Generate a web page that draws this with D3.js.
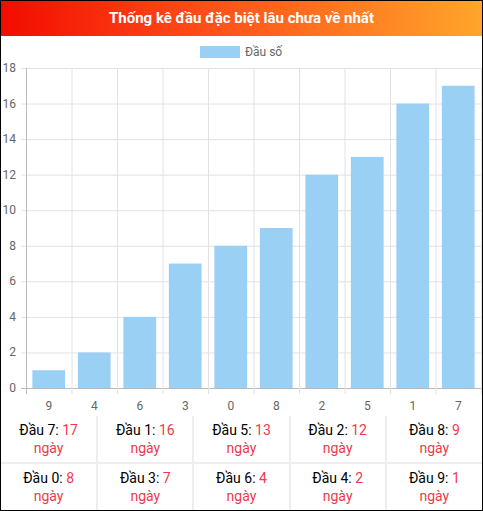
<!DOCTYPE html>
<meta charset="utf-8">
<style>
body { margin: 0; font-family: Roboto, sans-serif; }
#wrap { width: 481px; height: 509px; border: 1px solid #000; position: relative; background: #fff; }
.title { height: 35px; line-height: 35px; text-align: center; color: #fff; font-weight: bold; font-size: 15px;
  background: linear-gradient(to right, #f20c00, #ff4a18 40%, #ffa52a); }
table { position: absolute; top: 415px; left: 0; width: 481px; border-collapse: collapse; }
td { width: 20%; height: 46px; border: 2px solid #eee; text-align: center; font-size: 14px; line-height: 18px; padding: 0; }
td .v { color: #f0394c; }
tr:first-child td { border-top: none; }
td:first-child { border-left: none; }
td:last-child { border-right: none; }
tr:last-child td { border-bottom: none; }
</style>
<div id="wrap">
  <div class="title">Thống kê đầu đặc biệt lâu chưa về nhất</div>
  <svg width="481" height="380" style="position:absolute;top:35px;left:0"></svg>
  <table id="tbl"></table>
</div>
<script src="https://d3js.org/d3.v7.min.js"></script>
<script>
var categories = ["9", "4", "6", "3", "0", "8", "2", "5", "1", "7"];
var values = [1, 2, 4, 7, 8, 9, 12, 13, 16, 17];
var yTicks = [0, 2, 4, 6, 8, 10, 12, 14, 16, 18];
var seriesName = "Đầu số";

var svg = d3.select("svg");
var m = {left: 25, right: 480, top: 32, bottom: 352};

var x = d3.scaleBand().domain(categories).range([m.left, m.right]);
var y = d3.scaleLinear().domain([0, 18]).range([m.bottom, m.top]);

// grid
svg.append("g").selectAll("line").data(yTicks).enter().append("line")
  .attr("x1", m.left - 5).attr("x2", m.right).attr("y1", d => y(d) + 0.5).attr("y2", d => y(d) + 0.5)
  .attr("stroke", d => d === 0 ? "#bbb" : "#e2e2e2");
svg.append("g").selectAll("line").data(d3.range(categories.length + 1)).enter().append("line")
  .attr("x1", i => m.left + i * x.step() + 0.5).attr("x2", i => m.left + i * x.step() + 0.5)
  .attr("y1", m.top).attr("y2", m.bottom + 6)
  .attr("stroke", (d, i) => i === 0 ? "#bbb" : "#e2e2e2");

svg.append("g").selectAll("text").data(yTicks).enter().append("text")
  .attr("x", 15).attr("y", d => y(d) + 4).attr("text-anchor", "end")
  .attr("fill", "#666").attr("font-size", 12).text(d => d);

svg.append("g").selectAll("text").data(categories).enter().append("text")
  .attr("x", d => x(d) + x.bandwidth() / 2).attr("y", m.bottom + 22).attr("text-anchor", "middle")
  .attr("fill", "#666").attr("font-size", 12).text(d => d);

var bw = x.bandwidth() * 0.72;
svg.append("g").selectAll("rect").data(values).enter().append("rect")
  .attr("x", (d, i) => x(categories[i]) + (x.bandwidth() - bw) / 2)
  .attr("y", d => y(d)).attr("width", bw).attr("height", d => y(0) - y(d))
  .attr("fill", "#9bd0f5");

// legend
svg.append("rect").attr("x", 199).attr("y", 10).attr("width", 40).attr("height", 12).attr("fill", "#9bd0f5");
svg.append("text").attr("x", 244).attr("y", 20).attr("fill", "#666").attr("font-size", 12).text(seriesName);

// table sorted by value desc
var rows = categories.map((c, i) => ({c: c, v: values[i]})).sort((a, b) => b.v - a.v);
var tbl = d3.select("#tbl");
[rows.slice(0, 5), rows.slice(5)].forEach(r => {
  var tr = tbl.append("tr");
  r.forEach(d => tr.append("td").html("Đầu " + d.c + ": <span class='v'>" + d.v + "<br>ngày</span>"));
});
</script>
